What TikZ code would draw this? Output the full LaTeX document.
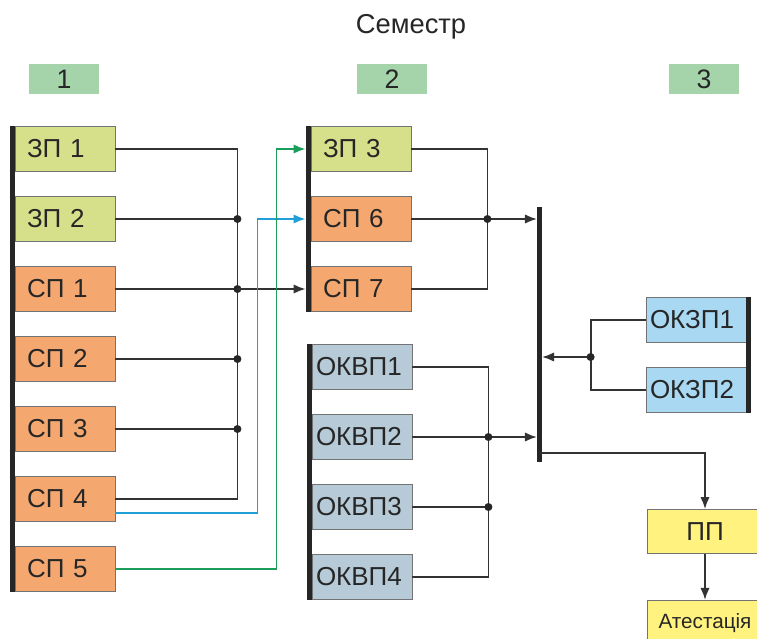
\documentclass[tikz,border=0pt]{standalone}
\usepackage{fontspec}
\setmainfont{Liberation Sans}
\usetikzlibrary{arrows.meta,calc,positioning}

\definecolor{zpcol}{HTML}{D6E08A}
\definecolor{spcol}{HTML}{F4A870}
\definecolor{okvpcol}{HTML}{B6CAD8}
\definecolor{okzpcol}{HTML}{A8D8F2}
\definecolor{ppcol}{HTML}{FFF27F}
\definecolor{numcol}{HTML}{A5D4AA}
\definecolor{bluecol}{HTML}{1E9FD6}
\definecolor{greencol}{HTML}{1A9E5A}

\begin{document}
\begin{tikzpicture}[x=0.75pt,y=-0.75pt,
    box/.style={draw=black!55, line width=0.6pt, minimum height=33.75pt,
      text width=57pt, inner xsep=9pt, align=left, text=black!85,
      font=\fontsize{19.5}{22}\selectfont},
    zp/.style={box, fill=zpcol},
    sp/.style={box, fill=spcol},
    okvp/.style={box, fill=okvpcol, text width=69pt, inner xsep=3pt},
    okzp/.style={okvp, fill=okzpcol},
    pp/.style={draw=black!55, line width=0.6pt, fill=ppcol, minimum width=87pt,
      minimum height=33pt, text=black!85, font=\fontsize{19.5}{22}\selectfont},
    num/.style={fill=numcol, minimum width=52pt, minimum height=22.5pt,
      inner sep=0pt, text=black!85, font=\fontsize{20}{24}\selectfont},
    barline/.style={line width=3.75pt, black!85},
    link/.style={line width=1.35pt, black!80},
    arrowto/.style={-{Latex[length=9pt,width=7pt]}},
    junction/.style={fill=black!85}
  ]
  \clip (0,0) rectangle (757,639);
  % Title and semesters
  \node[text=black!85, font=\fontsize{20.5}{24}\selectfont] (title) at (411,27) {Семестр};
  \foreach \i/\x in {1/64,2/392,3/704}
    \node[num] (n\i) at (\x,79) {\i};
  % Column 1
  \foreach \n/\t/\s [count=\i from 0] in
    {zp1/ЗП 1/zp, zp2/ЗП 2/zp, sp1/СП 1/sp, sp2/СП 2/sp, sp3/СП 3/sp, sp4/СП 4/sp, sp5/СП 5/sp}
    \node[\s] (\n) at (65,149+70*\i) {\t};
  % Column 2
  \foreach \n/\t/\s [count=\i from 0] in {zp3/ЗП 3/zp, sp6/СП 6/sp, sp7/СП 7/sp}
    \node[\s] (\n) at (361,149+70*\i) {\t};
  \foreach \i in {1,...,4}
    \node[okvp] (okvp\i) at (362,297+70*\i) {ОКВП\i};
  % Column 3
  \foreach \i in {1,2}
    \node[okzp] (okzp\i) at (696,250+70*\i) {ОКЗП\i};
  \node[pp] (pp) at (705,531.5) {ПП};
  \node[pp, minimum height=34pt, font=\fontsize{15.5}{18}\selectfont] (att) at (705,623) {Атестація};

  % Bars
  \draw[barline] ($(zp1.north west)+(-2.5,0)$) -- ($(sp5.south west)+(-2.5,0)$);
  \draw[barline] ($(zp3.north west)+(-2.5,0)$) -- ($(sp7.south west)+(-2.5,0)$);
  \draw[barline] ($(okvp1.north west)+(-2.5,0)$) -- ($(okvp4.south west)+(-2.5,0)$);
  \draw[barline] ($(okzp1.north east)+(2.5,0)$) -- ($(okzp2.south east)+(2.5,0)$);
  \coordinate (rt) at (539.5,207);
  \coordinate (rb) at (539.5,462);
  \draw[barline] (rt) -- (rb);

  % Column 1 -> column 2
  \path (zp1.east) ++(122,0) coordinate (ca);
  \draw[link] (zp1.east) -- (ca) |- (sp4.east);
  \foreach \n in {zp2,sp1,sp2,sp3} {
    \draw[link] (\n.east) -- (\n.east -| ca);
    \fill[junction] (\n.east -| ca) circle[radius=3pt];
  }
  \draw[link, arrowto, shorten >=3.75pt] (sp1.east -| ca) -- (sp7.west);
  \path (sp4.east) ++(0,14) coordinate (sp4o) ++(142,0) coordinate (cblue);
  \draw[link, bluecol, arrowto, shorten >=3.75pt] (sp4o) -- (cblue) |- (sp6.west);
  \path (sp5.east) ++(161,0) coordinate (cgreen);
  \draw[link, greencol, arrowto, shorten >=3.75pt] (sp5.east) -- (cgreen) |- (zp3.west);

  % Column 2 -> bar
  \path (zp3.east) ++(76,0) coordinate (cb);
  \draw[link] (zp3.east) -- (cb) |- (sp7.east);
  \draw[link, arrowto, shorten >=1.9pt] (sp6.east) -- (sp6.east -| rt);
  \fill[junction] (sp6.east -| cb) circle[radius=3pt];
  \path (okvp1.east) ++(76,0) coordinate (cc);
  \draw[link] (okvp1.east) -- (cc) |- (okvp4.east);
  \draw[link] (okvp3.east) -- (okvp3.east -| cc);
  \draw[link, arrowto, shorten >=1.9pt] (okvp2.east) -- (okvp2.east -| rt);
  \foreach \i in {2,3}
    \fill[junction] (okvp\i.east -| cc) circle[radius=3pt];

  % Column 3
  \path (okzp1.west) ++(-55,0) coordinate (kz1) ++(0,37) coordinate (kz);
  \draw[link] (okzp1.west) -- (kz1) |- (okzp2.west);
  \draw[link, arrowto, shorten >=1.9pt] (kz) -- (kz -| rt);
  \fill[junction] (kz) circle[radius=3pt];
  \coordinate (rp) at (539.5,453);
  \draw[link, arrowto] (rp) -| (pp.north);
  \draw[link, arrowto] (pp.south) -- (att.north);
\end{tikzpicture}
\end{document}
